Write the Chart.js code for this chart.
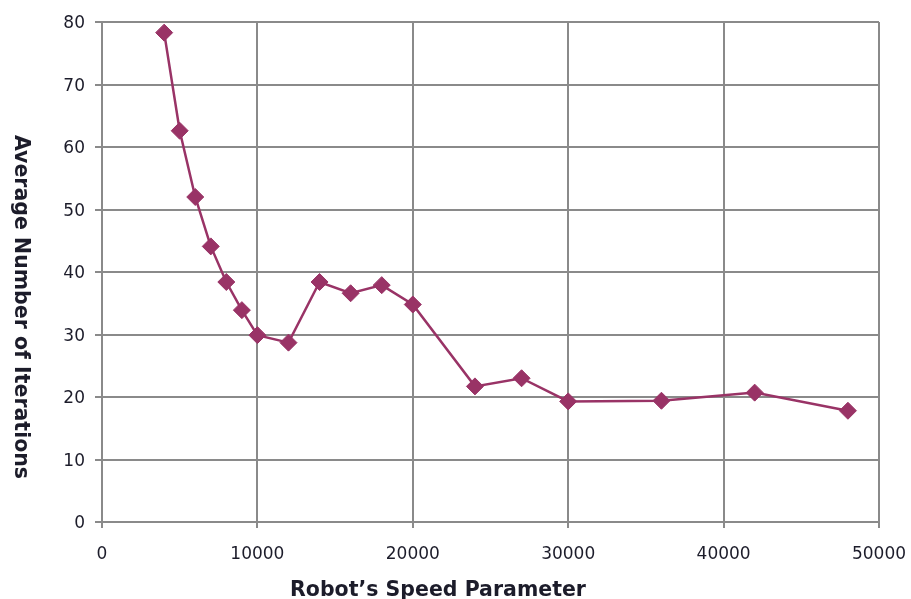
<!DOCTYPE html>
<html>
<head>
<meta charset="utf-8">
<script src="https://cdn.jsdelivr.net/npm/chart.js@4/dist/chart.umd.min.js"></script>
<style>
  html, body { margin: 0; padding: 0; background: #fff; }
  #wrap { width: 911px; height: 599px; position: relative; }
</style>
</head>
<body>
<div id="wrap"><canvas id="grafico"></canvas></div>
<script>
// dados
const speedParam = [4000, 5000, 6000, 7000, 8000, 9000, 10000, 12000, 14000, 16000, 18000, 20000, 24000, 27000, 30000, 36000, 42000, 48000];
const avgIterations = [78.3, 62.6, 52.0, 44.1, 38.4, 33.9, 29.9, 28.7, 38.4, 36.6, 37.9, 34.8, 21.7, 23.0, 19.3, 19.4, 20.7, 17.8];
const xTitle = 'Robot\u2019s Speed Parameter';
const yTitle = 'Average Number of Iterations';

const gridColor = '#8a8a8a';
const textColor = '#1c1c2a';
const lineColor = '#993366';

// títulos dos eixos desenhados à mão (o do eixo Y fica girado no sentido horário)
const axisTitles = {
    id: 'axisTitles',
    afterDraw(chart) {
        const ctx = chart.ctx;
        const area = chart.chartArea;
        ctx.save();
        ctx.fillStyle = textColor;
        ctx.textAlign = 'center';
        ctx.textBaseline = 'alphabetic';
        ctx.font = 'bold 20.5px "DejaVu Sans"';
        ctx.fillText(xTitle, area.left + 336, 596);

        ctx.translate(15, area.top + 285);
        ctx.rotate(Math.PI / 2);
        ctx.fillText(yTitle, 0, 0);
        ctx.restore();
    }
};

new Chart(document.getElementById('grafico').getContext('2d'), {
    type: 'line',
    data: {
        datasets: [{
            data: speedParam.map((x, i) => ({ x: x, y: avgIterations[i] })),
            borderColor: lineColor,
            backgroundColor: lineColor,
            borderWidth: 2.5,
            pointStyle: 'rectRot',
            pointRadius: 8.5,
            pointBorderWidth: 1,
            pointBackgroundColor: lineColor,
            pointBorderColor: lineColor,
            tension: 0
        }]
    },
    options: {
        responsive: true,
        maintainAspectRatio: false,
        animation: false,
        layout: { padding: { top: 22, right: 32, left: 0, bottom: 0 } },
        plugins: {
            legend: { display: false },
            tooltip: { enabled: false }
        },
        scales: {
            x: {
                type: 'linear',
                min: 0,
                max: 50000,
                afterFit: (s) => {
                    s.height = 77;
                    s.paddingLeft = 0;
                    s.paddingRight = 0;
                },
                ticks: {
                    stepSize: 10000,
                    color: textColor,
                    padding: 16,
                    maxRotation: 0,
                    font: { family: 'DejaVu Sans', size: 17 },
                    callback: (v) => String(v)
                },
                grid: { color: gridColor, lineWidth: 2, tickLength: 6 },
                border: { color: gridColor, width: 2 }
            },
            y: {
                min: 0,
                max: 80,
                afterFit: (s) => {
                    s.width = 102;
                    s.paddingTop = 0;
                    s.paddingBottom = 0;
                },
                ticks: {
                    stepSize: 10,
                    color: textColor,
                    padding: 10,
                    labelOffset: 2,
                    font: { family: 'DejaVu Sans', size: 17 }
                },
                grid: { color: gridColor, lineWidth: 2, tickLength: 7 },
                border: { color: gridColor, width: 2 }
            }
        }
    },
    plugins: [axisTitles]
});
</script>
</body>
</html>
